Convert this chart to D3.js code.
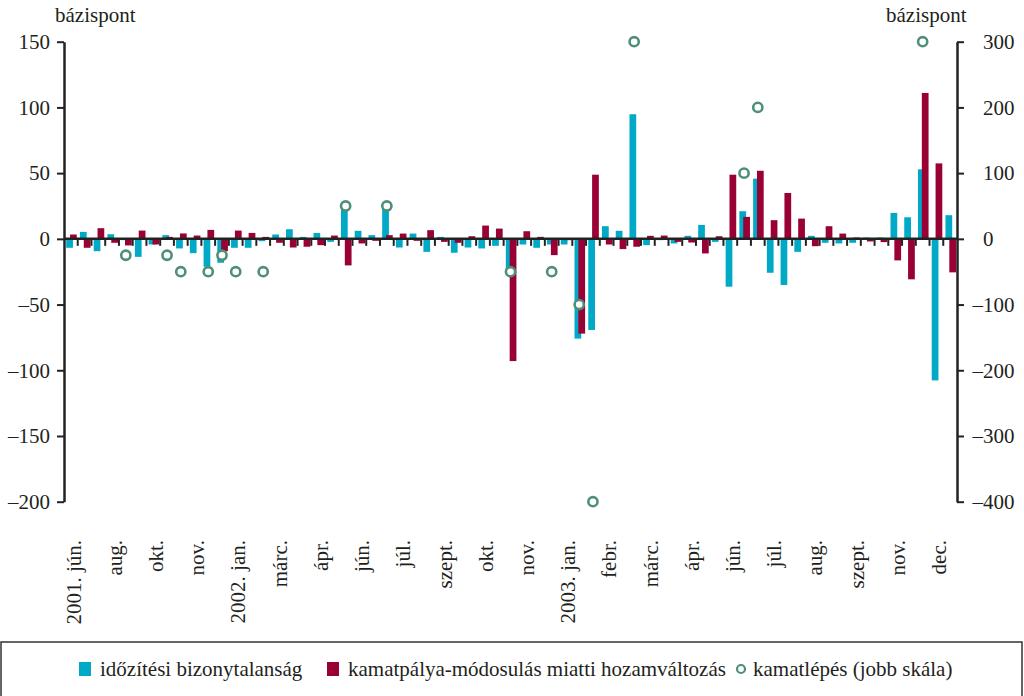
<!DOCTYPE html>
<html><head><meta charset="utf-8">
<script src="https://cdn.jsdelivr.net/npm/d3@7"></script>
<style>body{margin:0;background:#fff}text{font-family:"Liberation Serif","DejaVu Serif",serif;fill:#231f20}</style>
</head><body>
<svg id="c" width="1024" height="696"></svg>
<script>
// ---- data ----
const tickLabels = ["2001. jún.","aug.","okt.","nov.","2002. jan.","márc.","ápr.","jún.","júl.","szept.","okt.",
  "nov.","2003. jan.","febr.","márc.","ápr.","jún.","júl.","aug.","szept.","nov.","dec."];
const idozitesi = [-6.8,5.3,-9.4,3.5,-1,-13.7,-4.3,2.8,-7.3,-10.9,-21.2,-18.2,-6.8,-6.8,-1.8,3.3,
  7.3,1.5,4.5,-2.3,24.8,6.1,2.8,24.8,-6.6,4,-9.9,1.5,-10.6,-6.6,-7.3,-5.3,
  -25,-4.3,-6.8,-4.3,-4.3,-75.9,-69.3,9.6,6.1,94.8,-4.8,-1,-3.5,2.3,10.6,-2.3,
  -36.4,21,45.8,-25.8,-35.1,-9.9,2.3,-3,-3.5,-3,1,1,19.7,16.4,52.9,-107.7,18];
const kamatpalya = [3.3,-6.8,8.1,-3,-5,6.3,-4.3,1.5,4.1,2.5,6.8,-9.4,6.3,4.5,1.5,-3,
  -6.6,-6,-4.8,2.5,-20.2,-3.5,-1.5,2.8,4,-1.5,6.6,-2.3,-3,2,10.1,7.8,
  -93,5.8,1.5,-12.4,-1,-72.1,48.8,-4.3,-7.8,-6,2.3,2.5,-2.3,-2.8,-11.1,2,
  48.8,16.7,51.8,14.2,34.9,15.4,-5.6,9.6,4,1,-2,-2.5,-16.4,-30.8,111,57.4,-25.5];
const kamatlepes = [null,null,null,null,-25,null,null,-25,-50,null,-50,-25,-50,null,-50,null,
  null,null,null,null,50,null,null,50,null,null,null,null,null,null,null,null,
  -50,null,null,-50,null,-100,-400,null,null,300,null,null,null,null,null,null,
  null,100,200,null,null,null,null,null,null,null,null,null,null,null,300,null,null];
const categories = idozitesi.map((d, i) => "esemény " + (i + 1));
const leftTicks = [150,100,50,0,-50,-100,-150,-200];
const rightTicks = [300,200,100,0,-100,-200,-300,-400];
const seriesNames = ["időzítési bizonytalanság","kamatpálya-módosulás miatti hozamváltozás","kamatlépés (jobb skála)"];

// ---- chart ----
const C_CYAN = "#00a9c6", C_RED = "#990033", C_GREEN = "#4e8f76", C_AX = "#222";
const FS = 21;
const svg = d3.select("#c");
const L = 64, R = 957, T = 41.7, B = 501.7;
const x = d3.scaleBand().domain(categories).range([L, R]).padding(0);
const y = d3.scaleLinear().domain([-200, 150]).range([B, T]);
const yR = d3.scaleLinear().domain([-400, 300]).range([B, T]);
const bw = x.bandwidth();
const fmt = v => v < 0 ? "\u2013" + Math.abs(v) : String(v);

// bars
const g = svg.append("g");
g.selectAll("rect.c").data(idozitesi).join("rect")
  .attr("x", (d, i) => x(categories[i]) + bw * 0.16).attr("width", bw * 0.49)
  .attr("y", d => y(Math.max(0, d))).attr("height", d => Math.abs(y(d) - y(0)))
  .attr("fill", C_CYAN);
g.selectAll("rect.r").data(kamatpalya).join("rect")
  .attr("x", (d, i) => x(categories[i]) + bw * 0.44).attr("width", bw * 0.49)
  .attr("y", d => y(Math.max(0, d))).attr("height", d => Math.abs(y(d) - y(0)))
  .attr("fill", C_RED);

// zero line with band ticks
svg.append("line").attr("x1", L).attr("x2", R).attr("y1", y(0)).attr("y2", y(0))
  .attr("stroke", C_AX).attr("stroke-width", 2.5);
svg.append("g").selectAll("line").data(categories.slice(1)).join("line")
  .attr("x1", d => x(d)).attr("x2", d => x(d))
  .attr("y1", y(0)).attr("y2", y(0) + 7)
  .attr("stroke", C_AX).attr("stroke-width", 2);

// circles
svg.append("g").selectAll("circle")
  .data(kamatlepes.map((v, i) => ({v, c: categories[i]})).filter(d => d.v !== null))
  .join("circle")
  .attr("cx", d => x(d.c) + bw / 2).attr("cy", d => yR(d.v)).attr("r", 4.6)
  .attr("fill", "#fff").attr("stroke", C_GREEN).attr("stroke-width", 2.6);

// left axis
const ax = svg.append("g").attr("transform", `translate(${L},0)`)
  .call(d3.axisLeft(y).tickValues(leftTicks).tickFormat(fmt).tickSize(7).tickSizeOuter(0).tickPadding(7));
ax.select(".domain").attr("stroke", C_AX).attr("stroke-width", 2.5);
ax.selectAll(".tick line").attr("stroke", C_AX).attr("stroke-width", 2);
ax.selectAll(".tick text").attr("font-size", FS).attr("font-family", "Liberation Serif").attr("fill", "#231f20");

// right axis
const ar = svg.append("g").attr("transform", `translate(${R},0)`)
  .call(d3.axisRight(yR).tickValues(rightTicks).tickFormat(fmt).tickSize(7).tickSizeOuter(0).tickPadding(19));
ar.select(".domain").attr("stroke", C_AX).attr("stroke-width", 2.5);
ar.selectAll(".tick line").attr("stroke", C_AX).attr("stroke-width", 2);
ar.selectAll(".tick text").attr("font-size", FS).attr("font-family", "Liberation Serif").attr("fill", "#231f20")
  .attr("x", d => d < 0 ? 26 - 10.5 : 26);

// unit labels
svg.append("text").attr("x", 55).attr("y", 22).attr("font-size", FS).text("bázispont");
svg.append("text").attr("x", 886).attr("y", 22).attr("font-size", FS).text("bázispont");

// x labels (every third event)
svg.append("g").selectAll("text").data(tickLabels).join("text")
  .attr("transform", (d, k) => `translate(${x(categories[k * 3]) + bw / 2 + 3},540) rotate(-90)`)
  .attr("text-anchor", "end").attr("dy", "0.32em").attr("font-size", FS).text(d => d);

// legend
svg.append("rect").attr("x", 1).attr("y", 642).attr("width", 1021).attr("height", 70)
  .attr("fill", "none").attr("stroke", "#333").attr("stroke-width", 1.5);
const lg = svg.append("g");
lg.append("rect").attr("x", 79).attr("y", 662).attr("width", 12).attr("height", 14).attr("fill", C_CYAN);
lg.append("text").attr("x", 100).attr("y", 676).attr("font-size", FS).text(seriesNames[0]);
lg.append("rect").attr("x", 327).attr("y", 662).attr("width", 12).attr("height", 14).attr("fill", C_RED);
lg.append("text").attr("x", 348).attr("y", 676).attr("font-size", FS).text(seriesNames[1]);
lg.append("circle").attr("cx", 741).attr("cy", 669).attr("r", 4).attr("fill", "#fff")
  .attr("stroke", C_GREEN).attr("stroke-width", 2.2);
lg.append("text").attr("x", 753).attr("y", 676).attr("font-size", FS).text(seriesNames[2]);
</script>
</body></html>
